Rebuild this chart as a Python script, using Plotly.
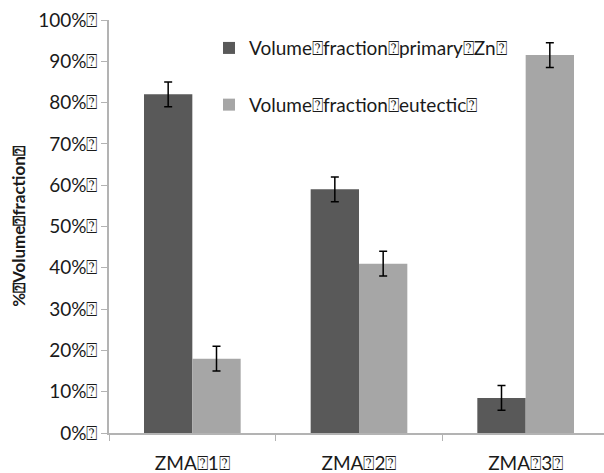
import plotly.graph_objects as go

# Missing-glyph box that appears in the chart's labels
BX = "\u2370"

categories = [f"ZMA{BX}1{BX}", f"ZMA{BX}2{BX}", f"ZMA{BX}3{BX}"]
primary_zn = [82, 59, 8.5]
primary_zn_err = [3, 3, 3]
eutectic = [18, 41, 91.5]
eutectic_err = [3, 3, 3]
y_ticks = [0, 10, 20, 30, 40, 50, 60, 70, 80, 90, 100]
y_tick_text = [f"{v}%{BX}" for v in y_ticks]

name_primary = f"Volume{BX}fraction{BX}primary{BX}Zn{BX}"
name_eutectic = f"Volume{BX}fraction{BX}eutectic{BX}"
y_title = f"%{BX}Volume{BX}fraction{BX}"

FONT = "Lato, 'Open Sans', sans-serif"
AXIS_GREY = "#b3b3b3"

fig = go.Figure()
fig.add_trace(go.Bar(
    x=categories, y=primary_zn, name=name_primary,
    marker=dict(color="#595959", line=dict(width=0)),
    error_y=dict(type="data", array=primary_zn_err, color="black", thickness=1.5, width=4),
    legendgroup="a",
))
fig.add_trace(go.Bar(
    x=categories, y=eutectic, name=name_eutectic,
    marker=dict(color="#a6a6a6", line=dict(width=0)),
    error_y=dict(type="data", array=eutectic_err, color="black", thickness=1.5, width=4),
    legendgroup="b",
))

fig.update_layout(
    width=604, height=473,
    margin=dict(l=109, r=0, t=20, b=40),
    paper_bgcolor="white", plot_bgcolor="white",
    barmode="group", bargap=0.42, bargroupgap=0,
    font=dict(family=FONT, size=19, color="#1a1a1a"),
    showlegend=True,
    legend=dict(
        x=0.202, y=0.978, xanchor="left", yanchor="top",
        bgcolor="rgba(0,0,0,0)", font=dict(size=19),
        tracegroupgap=29, itemwidth=30,
    ),
    xaxis=dict(
        type="category", range=[-0.5, 2.47],
        showline=True, linecolor=AXIS_GREY, linewidth=1.5,
        ticks="outside", tickson="boundaries", ticklen=6, tickcolor=AXIS_GREY,
        tickfont=dict(size=19), ticklabelstandoff=12,
        showgrid=False, zeroline=False,
    ),
    yaxis=dict(
        range=[0, 100], tickvals=y_ticks, ticktext=y_tick_text,
        showline=True, linecolor=AXIS_GREY, linewidth=1.5,
        ticks="outside", ticklen=6, tickcolor=AXIS_GREY,
        tickfont=dict(size=19), showgrid=False, zeroline=False,
        title=dict(text=f"<b>{y_title}</b>", font=dict(size=17), standoff=8),
    ),
)

fig.write_html("out.html")
